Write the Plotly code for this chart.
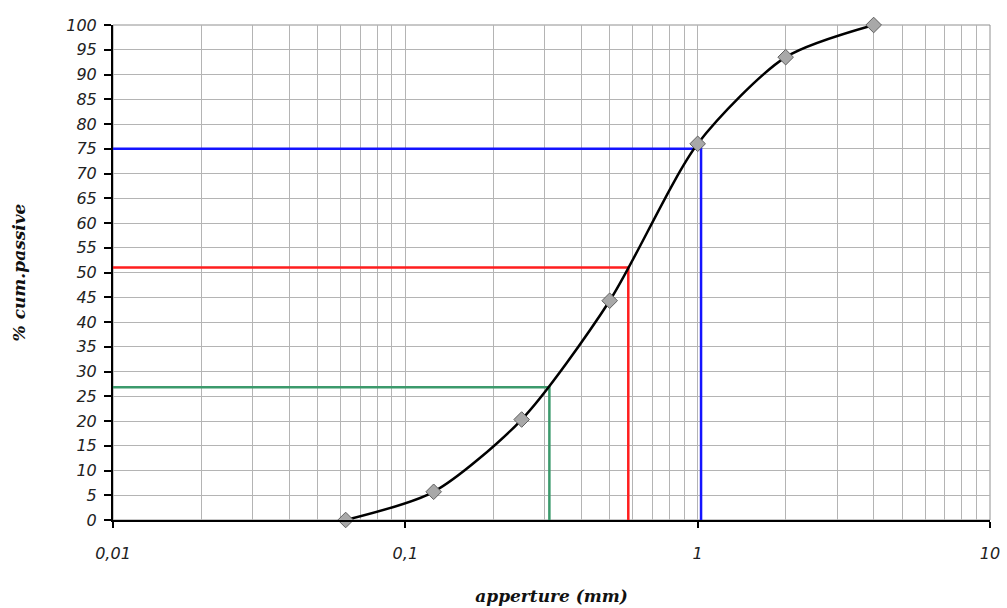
import plotly.graph_objects as go

# Data
sizes_mm = [0.0625, 0.125, 0.25, 0.5, 1, 2, 4]
passing_pct = [0, 5.7, 20.3, 44.3, 76.0, 93.5, 100]

# Reference percentiles (percent passing, diameter)
ref_pct = [26.8, 51.0, 75.0]
ref_d = [0.311, 0.579, 1.027]
ref_colors = ["#3c9a6c", "#ff1e1e", "#1414ff"]

x_tickvals = [0.01, 0.1, 1, 10]
x_ticktext = ["0,01", "0,1", "1", "10"]
y_tickvals = list(range(0, 101, 5))

minor_vals = [m * 10 ** e for e in (-2, -1, 0) for m in range(2, 10)]

fig = go.Figure()

for p, d, c in zip(ref_pct, ref_d, ref_colors):
    fig.add_trace(go.Scatter(
        x=[0.01, d, d], y=[p, p, 0], mode="lines",
        line=dict(color=c, width=2.5), hoverinfo="skip", showlegend=False,
        cliponaxis=False))

fig.add_trace(go.Scatter(
    x=sizes_mm, y=passing_pct, mode="lines+markers",
    line=dict(color="black", width=2.5, shape="spline", smoothing=0.75),
    marker=dict(symbol="diamond", size=12, color="#a8a8a8",
                line=dict(color="#606060", width=1)),
    showlegend=False, cliponaxis=False))

tick_font = dict(family="DejaVu Sans", size=16, color="#222222", style="italic")
title_font = dict(family="DejaVu Serif", size=17, color="#111111",
                  style="italic", weight="bold")

fig.update_layout(
    width=1007, height=608,
    margin=dict(l=113, r=17, t=25, b=88),
    paper_bgcolor="white", plot_bgcolor="white",
    xaxis=dict(
        type="log", range=[-2, 1], automargin=False,
        tickvals=x_tickvals, ticktext=x_ticktext,
        ticks="outside", ticklen=6, tickcolor="black", tickwidth=1.5,
        showgrid=True, gridcolor="#b4b4b4", gridwidth=1,
        minor=dict(tickvals=minor_vals, showgrid=True, gridcolor="#b4b4b4",
                   gridwidth=1, ticks=""),
        showline=True, linecolor="black", linewidth=2,
        zeroline=False, tickfont=tick_font, ticklabelstandoff=12,
        title=dict(text="apperture (mm)", font=title_font, standoff=28),
    ),
    yaxis=dict(
        range=[0, 100], tickvals=y_tickvals, automargin=False,
        ticks="outside", ticklen=7, tickcolor="black", tickwidth=1.5,
        showgrid=True, gridcolor="#b4b4b4", gridwidth=1,
        showline=True, linecolor="black", linewidth=2,
        zeroline=False, tickfont=tick_font, ticklabelstandoff=4,
        title=dict(text="% cum.passive", font=title_font, standoff=36),
    ),
)

# top and right border
fig.add_shape(type="rect", xref="paper", yref="paper", x0=0, y0=0, x1=1, y1=1,
              line=dict(color="#909090", width=1), layer="below")

fig.write_html("out.html")
